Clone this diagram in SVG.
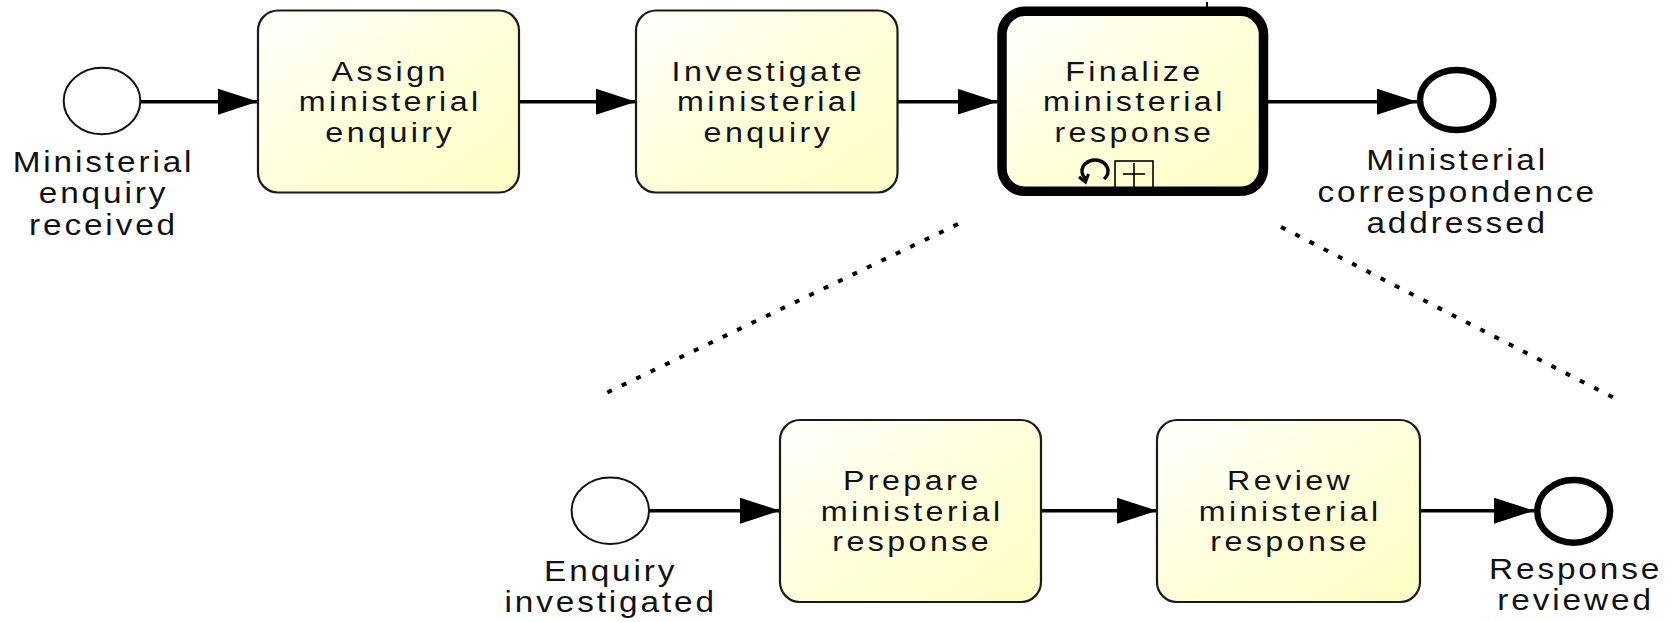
<svg xmlns="http://www.w3.org/2000/svg" width="1675" height="622" viewBox="0 0 1675 622">
  <defs>
    <linearGradient id="taskFill" x1="0" y1="0" x2="1" y2="1">
      <stop offset="0" stop-color="#ffffff"/>
      <stop offset="0.55" stop-color="#ffffd8"/>
      <stop offset="1" stop-color="#fdfdc4"/>
    </linearGradient>
    <marker id="arrow" markerUnits="userSpaceOnUse" markerWidth="41" markerHeight="27" refX="40" refY="13" orient="auto">
      <path d="M0,0 L40,13 L0,26 Z" fill="#000"/>
    </marker>
    <style>
      .task { fill: url(#taskFill); stroke: #1a1a1a; stroke-width: 2.2; }
      .task-thick { fill: url(#taskFill); stroke: #000; stroke-width: 9.5; }
      .start { fill: #fff; stroke: #111; stroke-width: 2; }
      .end { fill: #fff; stroke: #000; stroke-width: 6.5; }
      .flow { fill: none; stroke: #000; stroke-width: 3.5; marker-end: url(#arrow); }
      .zoomline { fill: none; stroke: #000; stroke-width: 4; stroke-dasharray: 5 11; }
      text { font-family: "Liberation Sans", Arial, sans-serif; font-size: 28px; fill: #111; text-anchor: middle; letter-spacing: 3px; }
      .label text { font-size: 29px; letter-spacing: 2.5px; }
      .marker-line { fill: none; stroke: #000; }
    </style>
  </defs>

  <!-- sequence flows -->
  <g id="connectors">
    <line class="flow" x1="141" y1="101.7" x2="258" y2="101.7"/>
    <line class="flow" x1="519" y1="101.7" x2="636" y2="101.7"/>
    <line class="flow" x1="897.5" y1="101.7" x2="997.5" y2="101.7"/>
    <line class="flow" x1="1268" y1="101.7" x2="1417" y2="101.7"/>
    <line class="flow" x1="649" y1="510.7" x2="780" y2="510.7"/>
    <line class="flow" x1="1041" y1="510.7" x2="1157" y2="510.7"/>
    <line class="flow" x1="1420" y1="510.7" x2="1534" y2="510.7"/>
    <!-- expansion guides from the collapsed sub-process -->
    <line class="zoomline" x1="958" y1="224" x2="600" y2="396"/>
    <line class="zoomline" x1="1281" y1="227" x2="1620" y2="401"/>
  </g>

  <!-- main process -->
  <g id="start-received">
    <ellipse class="start" cx="102" cy="101" rx="38.3" ry="33.2"/>
    <g class="label" transform="matrix(1.15 0 0 1 103.5 0)">
      <text x="0" y="172">Ministerial</text>
      <text x="0" y="203.5">enquiry</text>
      <text x="0" y="235">received</text>
    </g>
  </g>

  <g id="task-assign">
    <rect class="task" x="258" y="10.5" width="261" height="182" rx="20" ry="20"/>
    <g transform="matrix(1.15 0 0 1 390.2 0)">
      <text x="0" y="81">Assign</text>
      <text x="0" y="111.5">ministerial</text>
      <text x="0" y="142">enquiry</text>
    </g>
  </g>

  <g id="task-investigate">
    <rect class="task" x="636" y="10.5" width="261.5" height="182" rx="20" ry="20"/>
    <g transform="matrix(1.15 0 0 1 768.4 0)">
      <text x="0" y="81">Investigate</text>
      <text x="0" y="111.5">ministerial</text>
      <text x="0" y="142">enquiry</text>
    </g>
  </g>

  <g id="subprocess-finalize">
    <line class="marker-line" x1="1207" y1="2" x2="1207" y2="9" stroke-width="2"/>
    <rect class="task-thick" x="1002" y="11.3" width="261.5" height="180" rx="23" ry="23"/>
    <g transform="matrix(1.15 0 0 1 1134.4 0)">
      <text x="0" y="81.5">Finalize</text>
      <text x="0" y="111.5">ministerial</text>
      <text x="0" y="142">response</text>
    </g>
    <!-- loop marker -->
    <path class="marker-line" stroke-width="3.4" d="M1104,179 A13,11 0 1 0 1086,179"/>
    <path class="marker-line" stroke-width="3" d="M1079,177 L1085.5,182 L1088.5,174"/>
    <!-- collapsed sub-process marker -->
    <rect class="marker-line" stroke-width="1.6" x="1115" y="161" width="38" height="30" fill="none"/>
    <line class="marker-line" stroke-width="1.6" x1="1123" y1="174" x2="1145" y2="174"/>
    <line class="marker-line" stroke-width="1.6" x1="1134" y1="163" x2="1134" y2="187"/>
  </g>

  <g id="end-addressed">
    <ellipse class="end" cx="1456.7" cy="100" rx="36.7" ry="30"/>
    <g class="label" transform="matrix(1.15 0 0 1 1457.2 0)">
      <text x="0" y="170.5">Ministerial</text>
      <text x="0" y="202">correspondence</text>
      <text x="0" y="233.5">addressed</text>
    </g>
  </g>

  <!-- expanded sub-process -->
  <g id="start-investigated">
    <ellipse class="start" cx="610.3" cy="510.8" rx="38.7" ry="33.2"/>
    <g class="label" transform="matrix(1.15 0 0 1 610.7 0)">
      <text x="0" y="581">Enquiry</text>
      <text x="0" y="612.5">investigated</text>
    </g>
  </g>

  <g id="task-prepare">
    <rect class="task" x="780" y="420" width="261" height="182" rx="20" ry="20"/>
    <g transform="matrix(1.15 0 0 1 912.2 0)">
      <text x="0" y="490.5">Prepare</text>
      <text x="0" y="521">ministerial</text>
      <text x="0" y="551.5">response</text>
    </g>
  </g>

  <g id="task-review">
    <rect class="task" x="1157" y="420" width="263" height="182" rx="20" ry="20"/>
    <g transform="matrix(1.15 0 0 1 1290.2 0)">
      <text x="0" y="490.5">Review</text>
      <text x="0" y="521">ministerial</text>
      <text x="0" y="551.5">response</text>
    </g>
  </g>

  <g id="end-reviewed">
    <ellipse class="end" cx="1573.7" cy="511.3" rx="36.4" ry="31.4"/>
    <g class="label" transform="matrix(1.15 0 0 1 1575.6 0)">
      <text x="0" y="579">Response</text>
      <text x="0" y="610">reviewed</text>
    </g>
  </g>
</svg>
